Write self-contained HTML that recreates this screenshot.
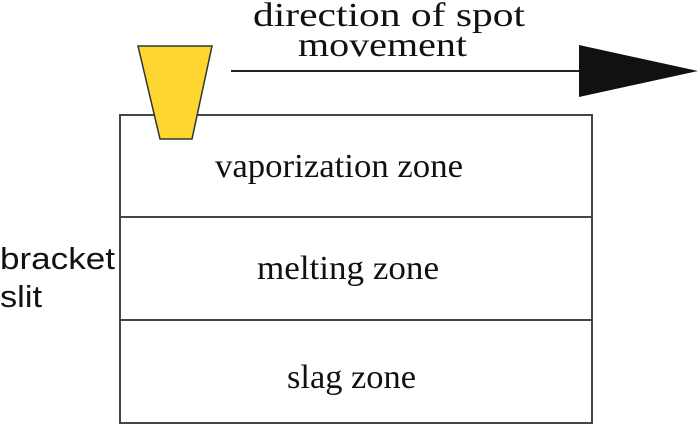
<!DOCTYPE html>
<html><head><style>
body{margin:0;background:#fff;}
svg{display:block;}
text{font-family:"Liberation Serif",serif;font-size:34px;fill:#111;}
.s{font-family:"Liberation Sans",sans-serif;font-size:31px;}
</style></head><body>
<svg width="700" height="425" viewBox="0 0 700 425">
<rect x="120" y="115" width="472" height="308" fill="#fff" stroke="#444" stroke-width="2"/>
<line x1="120" y1="217" x2="592" y2="217" stroke="#444" stroke-width="2"/>
<line x1="120" y1="320" x2="592" y2="320" stroke="#444" stroke-width="2"/>
<polygon points="138,46 212,46 192,139 160,139" fill="#fdd630" stroke="#333" stroke-width="1.5"/>
<line x1="231" y1="71" x2="580" y2="71" stroke="#222" stroke-width="2"/>
<polygon points="579,45 698,71 579,97" fill="#111"/>
<text x="253" y="26" textLength="272" lengthAdjust="spacingAndGlyphs">direction of spot</text>
<text x="298" y="56" textLength="169" lengthAdjust="spacingAndGlyphs">movement</text>
<text x="215" y="177" textLength="248" lengthAdjust="spacingAndGlyphs">vaporization zone</text>
<text x="257" y="279" textLength="182" lengthAdjust="spacingAndGlyphs">melting zone</text>
<text x="287" y="388" textLength="129" lengthAdjust="spacingAndGlyphs">slag zone</text>
<text class="s" x="0" y="269" textLength="115" lengthAdjust="spacingAndGlyphs">bracket</text>
<text class="s" x="0" y="307" textLength="42" lengthAdjust="spacingAndGlyphs">slit</text>
</svg>
</body></html>
